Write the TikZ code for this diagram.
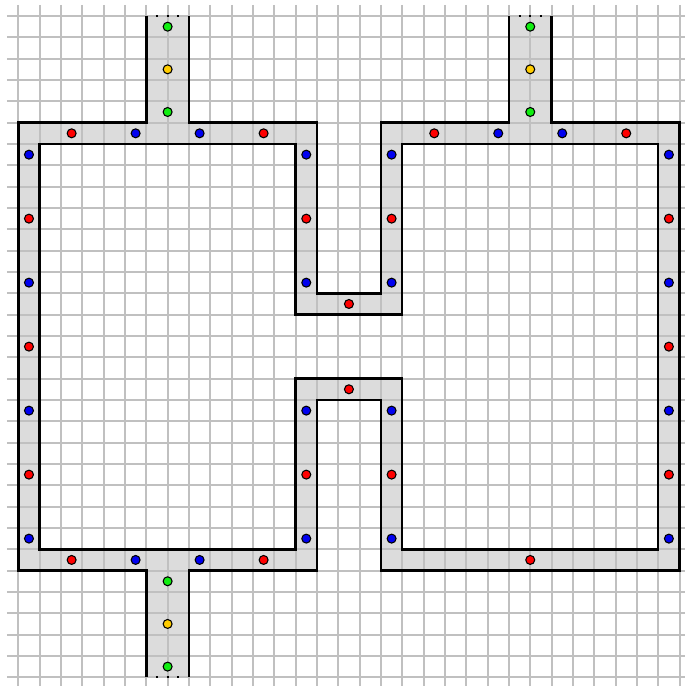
\documentclass[tikz,border=0pt]{standalone}
\definecolor{wallgray}{HTML}{DCDCDC}
\definecolor{gridgray}{HTML}{C0C0C0}
\definecolor{dotred}{HTML}{FF0000}
\definecolor{dotblue}{HTML}{0000F0}
\definecolor{dotgreen}{HTML}{11EE11}
\definecolor{dotyellow}{HTML}{FFCC00}
\begin{document}
\begin{tikzpicture}[x=1cm,y=-1cm,
  gridline/.style={draw=gridgray,line width=0.09cm},
  wall/.style={draw=black,line width=0.115cm},
  openend/.style={draw=black,line width=0.1cm,dash pattern=on 0.1cm off 0.4cm},
  dot/.style={circle,draw=black,line width=0.05cm,inner sep=0pt,minimum size=0.42cm},
  rd/.style={dot,fill=dotred},
  bd/.style={dot,fill=dotblue},
  gd/.style={dot,fill=dotgreen},
  yd/.style={dot,fill=dotyellow}]
\useasboundingbox (-0.858,-0.75) rectangle (31.21,31.41);
% wall fill
\path[fill=wallgray,even odd rule]
  (0,5)--(6,5)--(6,0)--(8,0)--(8,5)--(14,5)--(14,13)--(17,13)--(17,5)--(23,5)--(23,0)--(25,0)--(25,5)--(31,5)--(31,26)--(17,26)--(17,18)--(14,18)--(14,26)--(8,26)--(8,31)--(6,31)--(6,26)--(0,26)--cycle
  (1,6)--(13,6)--(13,14)--(18,14)--(18,6)--(30,6)--(30,25)--(18,25)--(18,17)--(13,17)--(13,25)--(1,25)--cycle;
% grid
\foreach \i in {0,...,31} {
  \draw[gridline] (\i,-0.52) -- (\i,31.6);
  \draw[gridline] (-0.53,\i) -- (31.4,\i);
}
% wall outlines
\draw[wall] (8,0)--(8,5)--(14,5)--(14,13)--(17,13)--(17,5)--(23,5)--(23,0);
\draw[wall] (25,0)--(25,5)--(31,5)--(31,26)--(17,26)--(17,18)--(14,18)--(14,26)--(8,26)--(8,31);
\draw[wall] (6,31)--(6,26)--(0,26)--(0,5)--(6,5)--(6,0);
\draw[wall] (1,6)--(13,6)--(13,14)--(18,14)--(18,6)--(30,6)--(30,25)--(18,25)--(18,17)--(13,17)--(13,25)--(1,25)--cycle;
% open corridor ends
\draw[openend] (6.45,0)--(7.6,0);
\draw[openend] (23.45,0)--(24.6,0);
\draw[openend] (6.45,31)--(7.6,31);
% corridor dots
\foreach \x/\n in {7/a,24/b} {
  \node[gd] (\n1) at (\x,0.5) {};
  \node[yd] (\n2) at (\x,2.5) {};
  \node[gd] (\n3) at (\x,4.5) {};
}
\node[gd] (c1) at (7,26.5) {};
\node[yd] (c2) at (7,28.5) {};
\node[gd] (c3) at (7,30.5) {};
% horizontal wall dots
\foreach \j/\n in {5.5/t,25.5/u} {
  \node[rd] (\n1) at (2.5,\j) {};
  \node[bd] (\n2) at (5.5,\j) {};
  \node[bd] (\n3) at (8.5,\j) {};
  \node[rd] (\n4) at (11.5,\j) {};
}
\node[rd] (v1) at (19.5,5.5) {};
\node[bd] (v2) at (22.5,5.5) {};
\node[bd] (v3) at (25.5,5.5) {};
\node[rd] (v4) at (28.5,5.5) {};
\node[rd] (w1) at (24,25.5) {};
% outer vertical walls
\foreach \x/\n in {0.5/l,30.5/r} {
  \node[bd] (\n1) at (\x,6.5) {};
  \node[rd] (\n2) at (\x,9.5) {};
  \node[bd] (\n3) at (\x,12.5) {};
  \node[rd] (\n4) at (\x,15.5) {};
  \node[bd] (\n5) at (\x,18.5) {};
  \node[rd] (\n6) at (\x,21.5) {};
  \node[bd] (\n7) at (\x,24.5) {};
}
% middle walls
\foreach \x/\n in {13.5/m,17.5/n} {
  \node[bd] (\n1) at (\x,6.5) {};
  \node[rd] (\n2) at (\x,9.5) {};
  \node[bd] (\n3) at (\x,12.5) {};
  \node[bd] (\n4) at (\x,18.5) {};
  \node[rd] (\n5) at (\x,21.5) {};
  \node[bd] (\n6) at (\x,24.5) {};
}
\node[rd] (p1) at (15.5,13.5) {};
\node[rd] (p2) at (15.5,17.5) {};
\end{tikzpicture}
\end{document}
